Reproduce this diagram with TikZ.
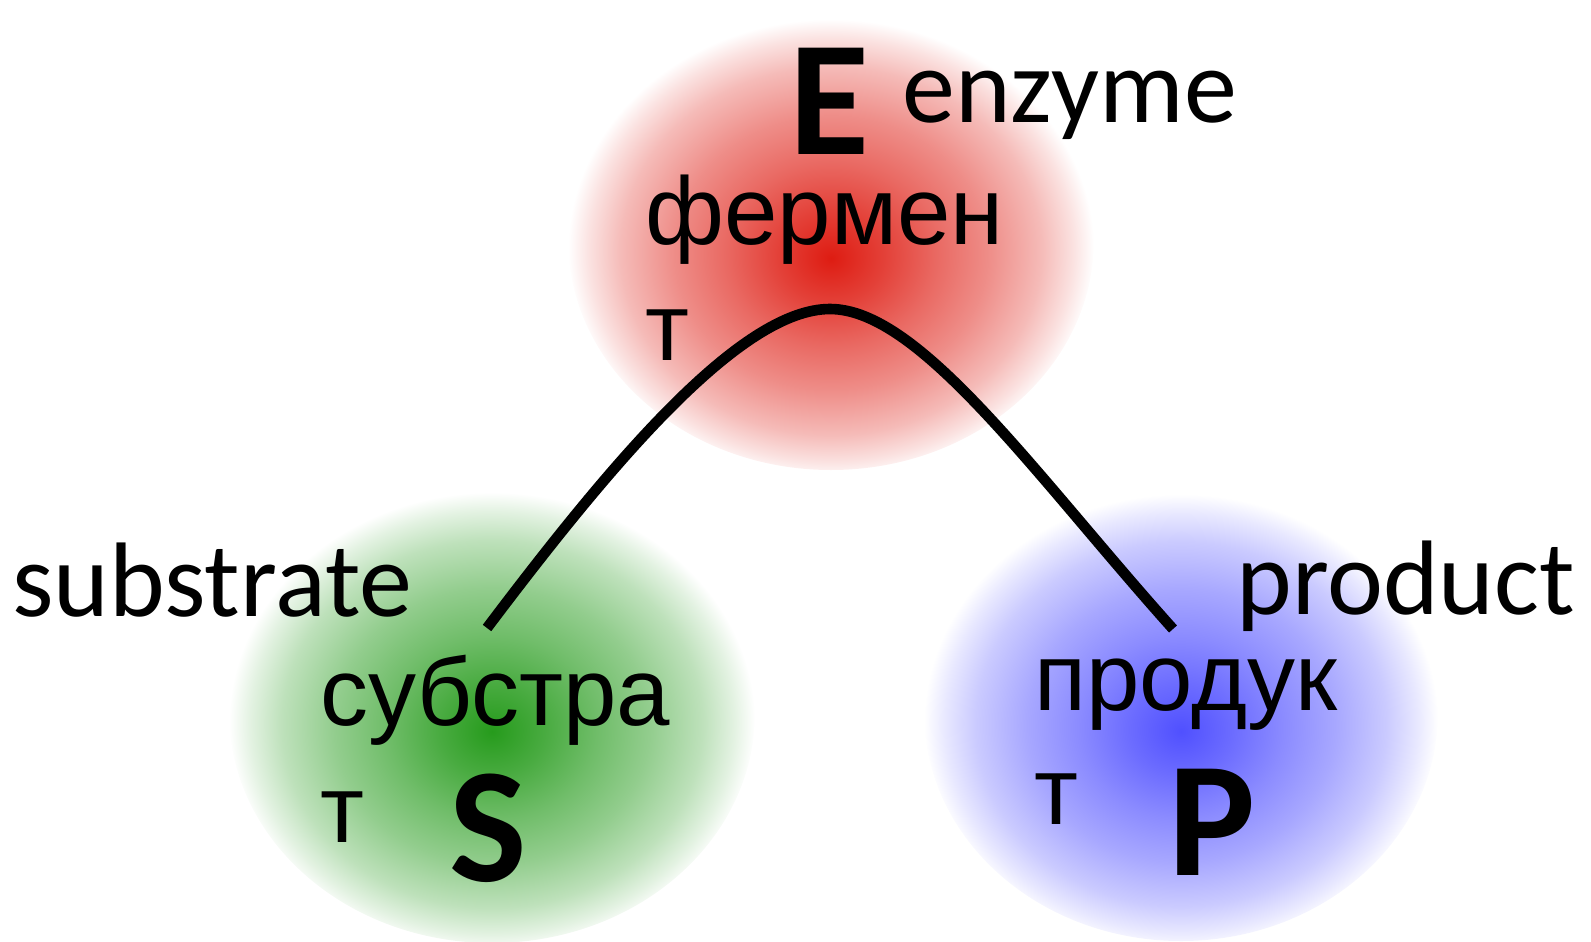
\documentclass[tikz,border=0pt]{standalone}
\usepackage{fontspec}
\newfontfamily\calib{Carlito}
\newfontfamily\arialf{Liberation Sans}
\definecolor{redc}{RGB}{222,28,18}
\definecolor{greenc}{RGB}{38,155,28}
\definecolor{bluec}{RGB}{80,80,255}
\pgfdeclareradialshading{redball}{\pgfpoint{0bp}{-2bp}}{color(0bp)=(redc); color(5bp)=(redc!84!white); color(10bp)=(redc!66!white); color(15bp)=(redc!50!white); color(20bp)=(redc!30!white); color(23bp)=(redc!13!white); color(25bp)=(white); color(50bp)=(white)}
\pgfdeclareradialshading{greenball}{\pgfpoint{0bp}{-2bp}}{color(0bp)=(greenc); color(5bp)=(greenc!84!white); color(10bp)=(greenc!66!white); color(15bp)=(greenc!50!white); color(20bp)=(greenc!30!white); color(23bp)=(greenc!13!white); color(25bp)=(white); color(50bp)=(white)}
\pgfdeclareradialshading{blueball}{\pgfpoint{0bp}{-2bp}}{color(0bp)=(bluec); color(5bp)=(bluec!84!white); color(10bp)=(bluec!66!white); color(15bp)=(bluec!50!white); color(20bp)=(bluec!30!white); color(23bp)=(bluec!13!white); color(25bp)=(white); color(50bp)=(white)}
\tikzset{
  big/.style={inner sep=0pt, anchor=base west, font=\calib\bfseries\fontsize{82}{96}\selectfont},
  eng/.style={inner sep=0pt, anchor=base west, font=\calib\fontsize{53}{62}\selectfont},
  rus/.style={inner sep=0pt, anchor=base west, font=\arialf\fontsize{48}{56}\selectfont},
  curve/.style={line width=5.3pt, black}
}
\begin{document}
\begin{tikzpicture}[x=0.5pt, y=-0.5pt]
\useasboundingbox (0,0) rectangle (1591,942);
% blobs
\shade[shading=greenball] (492,713) ellipse [x radius=263, y radius=230];
\shade[shading=blueball] (1181,713) ellipse [x radius=257, y radius=228];
\shade[shading=redball] (831,240) ellipse [x radius=263, y radius=230];
% curve
\coordinate (sEnd) at (487,628);
\coordinate (peak) at (830,309);
\coordinate (pEnd) at (1173,629);
\draw[curve] (sEnd) .. controls (610,465) and (740,309) .. (peak)
  .. controls (920,309) and (1035,475) .. (pEnd);
% enzyme
\node[big] (E) at (789,154) {E};
\node[eng] (enz) at (902,122) {enzyme};
\node[rus] (ferm1) at (645,244) {фермен};
\node[rus] (ferm2) at (645,360) {т};
% substrate
\node[eng] (subeng) at (12,616) {substrate};
\node[rus] (sub1) at (320,725) {субстра};
\node[rus] (sub2) at (320,842) {т};
\node[big] (S) at (449,881) {S};
% product
\node[eng] (prodeng) at (1236,614) {product};
\node[rus] (prod1) at (1034,710) {продук};
\node[rus] (prod2) at (1034,824) {т};
\node[big] (P) at (1168,875) {P};
\end{tikzpicture}
\end{document}
